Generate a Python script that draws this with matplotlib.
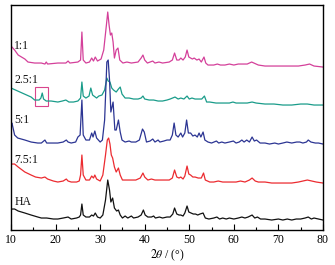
import matplotlib
matplotlib.use("Agg")
import matplotlib.pyplot as plt
from matplotlib.patches import Rectangle

plt.rcParams['font.family'] = ['Liberation Serif', 'DejaVu Serif']
plt.rcParams['mathtext.fontset'] = 'stix'

# --- data (2theta in degrees, intensity in arbitrary offset units) ---
x_11 = [10.0, 10.8, 11.6, 13.1, 13.8, 15.3, 16.8, 17.6, 17.9, 18.2, 20.5, 22.3, 22.8, 23.2,
        25.0, 25.6, 25.9, 26.2, 26.8, 27.6, 28.1, 28.5, 28.9, 29.4, 30.2, 30.8, 31.4, 31.7,
        32.0, 32.3, 32.6, 32.9, 33.2, 33.6, 34.0, 34.4, 35.1, 36.0, 37.0, 38.5, 39.2, 39.6,
        40.0, 40.6, 41.8, 42.3, 43.2, 44.0, 45.5, 46.2, 46.7, 47.2, 47.7, 48.1, 48.6, 49.1,
        49.5, 49.9, 50.3, 50.7, 51.1, 51.7, 52.2, 52.7, 53.3, 53.7, 54.2, 55.5, 56.3, 57.0,
        58.0, 59.0, 60.0, 61.0, 62.0, 63.0, 64.0, 64.5, 65.5, 67.0, 69.0, 71.0, 73.0, 74.5,
        76.0, 77.0, 78.0, 80.0]
y_11 = [184, 180, 175, 171, 168, 167, 167, 166, 168, 166, 167, 167, 169, 167,
        168, 170, 198, 170, 167, 168, 172, 169, 173, 169, 171, 180, 205, 218,
        205, 195, 197, 188, 172, 180, 182, 170, 167, 168, 167, 168, 172, 175,
        170, 167, 169, 167, 168, 167, 168, 170, 177, 170, 170, 172, 170, 173,
        180, 173, 172, 171, 172, 170, 171, 168, 173, 167, 165, 165, 166, 165,
        165, 166, 165, 166, 166, 166, 168, 167, 165, 164, 164, 164, 164, 164,
        165, 166, 164, 163]

x_25 = [10.0, 10.5, 11.5, 12.5, 13.5, 14.5, 15.3, 16.3, 16.7, 17.0, 17.3, 17.9, 19.0, 20.5,
        21.5, 22.3, 23.0, 24.0, 25.0, 25.6, 25.9, 26.2, 26.8, 27.5, 27.9, 28.3, 29.2, 29.7,
        30.4, 31.0, 31.5, 31.8, 32.2, 32.6, 33.0, 33.6, 34.1, 34.5, 34.9, 35.6, 36.5, 37.5,
        38.5, 39.2, 39.6, 40.0, 41.0, 42.0, 43.0, 44.0, 45.0, 45.7, 46.8, 47.5, 48.1, 48.8,
        49.5, 50.0, 50.6, 51.3, 52.2, 52.8, 53.4, 53.9, 54.6, 56.0, 57.5, 59.0, 59.8, 60.5,
        62.0, 63.0, 64.1, 65.0, 67.0, 69.0, 71.0, 73.0, 75.0, 76.5, 78.0, 80.0]
y_25 = [142, 141, 139, 137, 135, 133, 130, 130, 132, 137, 131, 129, 129, 128,
        129, 130, 128, 128, 129, 132, 148, 134, 132, 134, 142, 135, 132, 134,
        135, 140, 152, 149, 148, 142, 140, 138, 141, 143, 136, 132, 132, 131,
        131, 132, 134, 131, 130, 130, 129, 129, 130, 131, 133, 131, 132, 131,
        134, 131, 132, 131, 131, 131, 134, 128, 128, 127, 127, 127, 128, 127,
        127, 127, 128, 127, 126, 126, 125, 125, 126, 126, 125, 125]

x_5 = [10.0, 10.2, 10.8, 11.5, 13.1, 14.5, 16.0, 16.8, 17.6, 18.0, 19.0, 20.5, 21.7, 22.4,
       22.8, 23.5, 24.5, 25.0, 25.5, 25.9, 26.2, 26.8, 27.6, 28.1, 28.4, 28.8, 29.2, 30.0,
       30.5, 31.0, 31.5, 31.8, 32.1, 32.4, 32.9, 33.3, 33.6, 34.1, 34.5, 34.9, 35.6, 36.5,
       37.0, 38.0, 38.8, 39.5, 39.9, 40.4, 41.2, 41.8, 42.3, 43.0, 43.4, 44.3, 45.0, 45.7,
       46.2, 46.6, 47.0, 47.5, 48.1, 48.5, 49.0, 49.4, 49.8, 50.3, 50.8, 51.3, 51.8, 52.2,
       52.6, 53.1, 53.5, 54.2, 55.0, 56.1, 56.6, 57.3, 58.0, 59.0, 59.9, 60.5, 61.2, 61.8,
       62.3, 62.9, 63.5, 64.1, 64.6, 65.1, 65.9, 67.0, 68.0, 69.2, 70.0, 71.0, 71.9, 73.0,
       74.1, 74.8, 75.5, 76.3, 76.7, 77.3, 78.3, 79.0, 80.0]
y_5 = [106, 107, 95, 92, 90, 88, 87, 87, 90, 87, 87, 87, 88, 90,
       88, 87, 88, 93, 95, 130, 95, 90, 90, 97, 93, 99, 92, 88,
       90, 110, 168, 170, 150, 118, 128, 100, 100, 110, 98, 90, 88, 89,
       88, 88, 90, 101, 98, 88, 89, 91, 88, 90, 88, 89, 90, 90,
       95, 107, 95, 93, 97, 93, 97, 110, 97, 97, 94, 95, 93, 97,
       93, 98, 90, 88, 87, 89, 87, 88, 87, 88, 89, 87, 88, 90,
       88, 90, 88, 93, 89, 90, 87, 87, 86, 87, 86, 87, 88, 87,
       88, 88, 87, 88, 90, 88, 87, 87, 86]

x_75 = [10.0, 10.2, 10.8, 11.6, 13.1, 14.5, 15.5, 16.8, 17.6, 18.2, 19.5, 20.5, 21.7, 22.4,
        22.8, 23.5, 24.7, 25.3, 25.6, 25.9, 26.2, 26.8, 27.6, 28.1, 28.5, 28.8, 29.2, 30.0,
        30.6, 31.2, 31.6, 31.9, 32.2, 32.5, 32.8, 33.2, 33.6, 34.1, 34.5, 35.0, 36.0, 37.0,
        38.0, 39.0, 39.6, 40.0, 40.7, 41.5, 42.3, 43.5, 44.6, 45.5, 46.2, 46.7, 47.2, 47.7,
        48.1, 48.6, 49.0, 49.5, 49.9, 50.3, 50.8, 51.3, 52.0, 52.7, 53.2, 53.6, 54.6, 55.5,
        56.5, 57.5, 58.5, 59.5, 60.5, 61.5, 62.5, 63.5, 64.1, 64.8, 65.5, 67.0, 68.5, 70.0,
        71.5, 73.0, 74.5, 75.5, 76.5, 77.5, 78.5, 80.0]
y_75 = [65, 66, 66, 63, 58, 55, 53, 52, 53, 51, 49, 48, 49, 51,
        49, 48, 48, 49, 55, 75, 55, 50, 50, 54, 52, 55, 51, 49,
        55, 75, 90, 92, 86, 75, 72, 63, 58, 62, 55, 50, 50, 50,
        50, 52, 57, 53, 50, 51, 50, 50, 50, 50, 52, 60, 53, 52,
        53, 51, 54, 64, 56, 55, 53, 53, 52, 52, 57, 50, 48, 48,
        49, 48, 48, 48, 48, 49, 48, 50, 52, 49, 48, 48, 47, 47,
        47, 47, 48, 49, 50, 49, 48, 47]

x_ha = [10.0, 10.2, 10.8, 11.6, 13.1, 14.5, 16.0, 16.8, 18.0, 19.5, 20.5, 21.7, 22.8, 23.5,
        24.7, 25.3, 25.6, 25.9, 26.2, 26.8, 27.6, 28.1, 28.5, 28.9, 29.4, 30.0, 30.6, 31.2,
        31.7, 32.1, 32.4, 32.8, 33.2, 33.7, 34.1, 34.5, 35.0, 35.6, 36.2, 37.0, 37.5, 38.5,
        39.2, 39.7, 40.1, 40.7, 41.5, 42.0, 42.4, 43.3, 44.0, 45.0, 45.7, 46.3, 46.7, 47.2,
        47.7, 48.1, 48.6, 49.0, 49.5, 49.9, 50.4, 50.9, 51.4, 51.9, 52.4, 53.1, 53.6, 54.4,
        55.5, 56.2, 56.8, 57.5, 58.3, 59.0, 60.0, 61.0, 61.8, 62.5, 63.2, 64.1, 64.7, 65.3,
        66.0, 67.0, 68.5, 70.0, 71.0, 72.0, 73.0, 74.0, 75.0, 76.0, 76.7, 77.4, 78.0, 79.0,
        80.0]
y_ha = [20, 21, 21, 19, 17, 15, 13, 12, 12, 11, 11, 12, 13, 11,
        12, 13, 15, 26, 15, 13, 13, 15, 14, 17, 13, 12, 15, 30,
        50, 40, 28, 32, 22, 19, 20, 15, 12, 14, 12, 14, 12, 13,
        15, 20, 15, 13, 13, 14, 12, 13, 12, 13, 13, 16, 22, 16,
        15, 15, 14, 17, 24, 18, 17, 16, 16, 15, 16, 17, 12, 11,
        12, 13, 11, 12, 11, 12, 11, 12, 13, 12, 13, 15, 12, 13,
        11, 11, 10, 11, 10, 11, 10, 11, 11, 12, 13, 11, 12, 11,
        10]

labels = ['1:1', '2.5:1', '5:1', '7.5:1', 'HA']
label_y = [184, 150, 110, 70, 28]
colors = ['#d4409a', '#1a9c8a', '#2c3593', '#ec2b30', '#111111']
series = [(x_11, y_11), (x_25, y_25), (x_5, y_5), (x_75, y_75), (x_ha, y_ha)]

fig = plt.figure(figsize=(3.35, 2.65), dpi=100)
ax = fig.add_axes([0.033, 0.132, 0.931, 0.849])

for (xs, ys), c in zip(series, colors):
    ax.plot(xs, ys, color=c, lw=0.9)

for lab, ly in zip(labels, label_y):
    ax.text(10.7, ly, lab, fontsize=8.5, va='center', ha='left', color='#111111')

# highlighted peak of the 2.5:1 sample
ax.add_patch(Rectangle((15.3, 124), 3.0, 19, fill=False, edgecolor='#d9458c', lw=0.8))

ax.set_xlim(10, 80)
ax.set_ylim(0, 225)
ax.set_xticks(range(10, 81, 10))
ax.set_xticks(range(15, 80, 10), minor=True)
ax.set_yticks([])
ax.tick_params(axis='x', which='major', direction='in', length=4, width=0.8, labelsize=8.5, pad=3,
               top=False)
ax.tick_params(axis='x', which='minor', direction='in', length=2.5, width=0.8, top=False)
for sp in ax.spines.values():
    sp.set_linewidth(1.0)
ax.set_xlabel(r'$\mathit{2\theta}$ / (°)', fontsize=8.5, labelpad=1)

fig.savefig('out.png', dpi=100)
